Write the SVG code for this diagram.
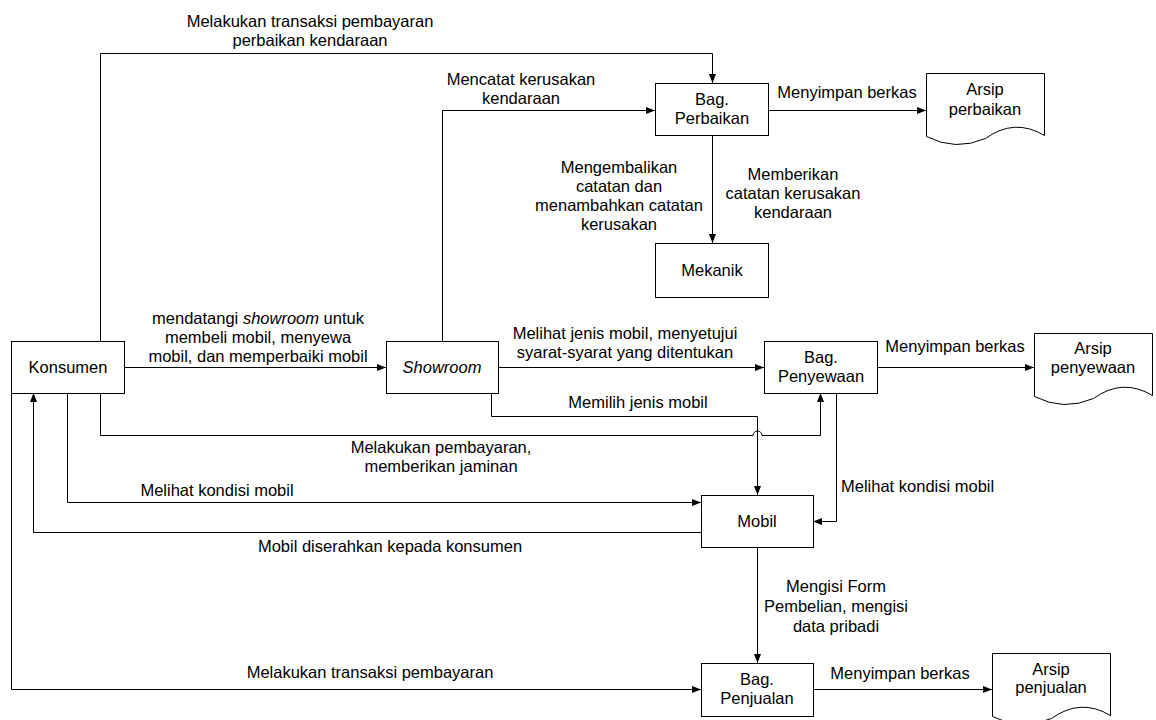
<svg xmlns="http://www.w3.org/2000/svg" width="1156" height="720" viewBox="0 0 1156 720">
<defs>
<marker id="ah" markerUnits="userSpaceOnUse" markerWidth="10" markerHeight="8" refX="9" refY="4" orient="auto">
<path d="M0,0.5 L9,4 L0,7.5 Z" fill="#000"/>
</marker>
<path id="doc" d="M0,0 H118 V62 Q88,44 59,65 Q29,78 0,63 Z"/>
<style>
text{font-family:"Liberation Sans",Arial,sans-serif;font-size:16.5px;fill:#000}
.c{text-anchor:middle}
.box{fill:#fff;stroke:#000;stroke-width:1}
.doc{fill:#fff;stroke:#000;stroke-width:1}
.ln{fill:none;stroke:#000;stroke-width:1}
.ar{marker-end:url(#ah)}
</style>
</defs>
<rect width="1156" height="720" fill="#fff"/>

<g id="connectors">
<path class="ln ar" d="M100.5,341 V53.5 H712.5 V83"/>
<path class="ln ar" d="M442.5,341 V110.5 H655"/>
<path class="ln ar" d="M768,110.5 H926"/>
<path class="ln ar" d="M712.5,135 V243"/>
<path class="ln ar" d="M124,367.5 H386"/>
<path class="ln ar" d="M498,367.5 H764"/>
<path class="ln ar" d="M877,367.5 H1034"/>
<path class="ln ar" d="M491.5,393 V416.5 H757.5 V495"/>
<path class="ln ar" d="M100.5,393 V435.5 H753 A4.5,4.5 0 0 1 762,435.5 H820.5 V393"/>
<path class="ln ar" d="M67.5,393 V502.5 H701"/>
<path class="ln ar" d="M701,532.5 H33.5 V393"/>
<path class="ln ar" d="M11.5,393 V689.5 H701"/>
<path class="ln ar" d="M836.5,393 V521.5 H813"/>
<path class="ln ar" d="M757.5,547 V663"/>
<path class="ln ar" d="M813,689.5 H992"/>

<text class="c" x="310" y="27">Melakukan transaksi pembayaran</text>
<text class="c" x="310" y="46">perbaikan kendaraan</text>
<text class="c" x="521" y="85">Mencatat kerusakan</text>
<text class="c" x="521" y="104">kendaraan</text>
<text class="c" x="847" y="98">Menyimpan berkas</text>
<text class="c" x="619" y="173">Mengembalikan</text>
<text class="c" x="619" y="192">catatan dan</text>
<text class="c" x="619" y="211">menambahkan catatan</text>
<text class="c" x="619" y="230">kerusakan</text>
<text class="c" x="793" y="180">Memberikan</text>
<text class="c" x="793" y="199">catatan kerusakan</text>
<text class="c" x="793" y="218">kendaraan</text>
<text class="c" x="258" y="324">mendatangi <tspan font-style="italic">showroom</tspan> untuk</text>
<text class="c" x="258" y="343">membeli mobil, menyewa</text>
<text class="c" x="258" y="362">mobil, dan memperbaiki mobil</text>
<text class="c" x="625" y="339">Melihat jenis mobil, menyetujui</text>
<text class="c" x="625" y="358">syarat-syarat yang ditentukan</text>
<text class="c" x="955" y="352">Menyimpan berkas</text>
<text class="c" x="638" y="408">Memilih jenis mobil</text>
<text class="c" x="441" y="453">Melakukan pembayaran,</text>
<text class="c" x="441" y="472">memberikan jaminan</text>
<text class="c" x="217" y="496">Melihat kondisi mobil</text>
<text x="841" y="492">Melihat kondisi mobil</text>
<text class="c" x="390" y="552">Mobil diserahkan kepada konsumen</text>
<text class="c" x="836" y="592">Mengisi Form</text>
<text class="c" x="836" y="612">Pembelian, mengisi</text>
<text class="c" x="836" y="632">data pribadi</text>
<text class="c" x="370" y="678">Melakukan transaksi pembayaran</text>
<text class="c" x="900" y="679">Menyimpan berkas</text>
</g>

<g id="konsumen">
<rect class="box" x="11.5" y="341.5" width="113" height="52"/>
<text class="c" x="68" y="373">Konsumen</text>
</g>
<g id="showroom">
<rect class="box" x="386.5" y="341.5" width="112" height="52"/>
<text class="c" x="442" y="373" font-style="italic">Showroom</text>
</g>
<g id="bag-perbaikan">
<rect class="box" x="655.5" y="83.5" width="113" height="52"/>
<text class="c" x="712" y="105">Bag.</text>
<text class="c" x="712" y="124">Perbaikan</text>
</g>
<g id="mekanik">
<rect class="box" x="655.5" y="243.5" width="113" height="54"/>
<text class="c" x="712" y="276">Mekanik</text>
</g>
<g id="bag-penyewaan">
<rect class="box" x="764.5" y="341.5" width="113" height="52"/>
<text class="c" x="821" y="363">Bag.</text>
<text class="c" x="821" y="382">Penyewaan</text>
</g>
<g id="mobil">
<rect class="box" x="701.5" y="495.5" width="112" height="52"/>
<text class="c" x="757" y="527">Mobil</text>
</g>
<g id="bag-penjualan">
<rect class="box" x="701.5" y="663.5" width="112" height="53"/>
<text class="c" x="757" y="685">Bag.</text>
<text class="c" x="757" y="704">Penjualan</text>
</g>
<g id="arsip-perbaikan">
<use href="#doc" class="doc" x="926.5" y="73.5"/>
<text class="c" x="985" y="95">Arsip</text>
<text class="c" x="985" y="115">perbaikan</text>
</g>
<g id="arsip-penyewaan">
<use href="#doc" class="doc" x="1034.5" y="333.5"/>
<text class="c" x="1093" y="354">Arsip</text>
<text class="c" x="1093" y="373">penyewaan</text>
</g>
<g id="arsip-penjualan">
<use href="#doc" class="doc" x="992.5" y="653.5"/>
<text class="c" x="1051" y="675">Arsip</text>
<text class="c" x="1051" y="693">penjualan</text>
</g>
</svg>
